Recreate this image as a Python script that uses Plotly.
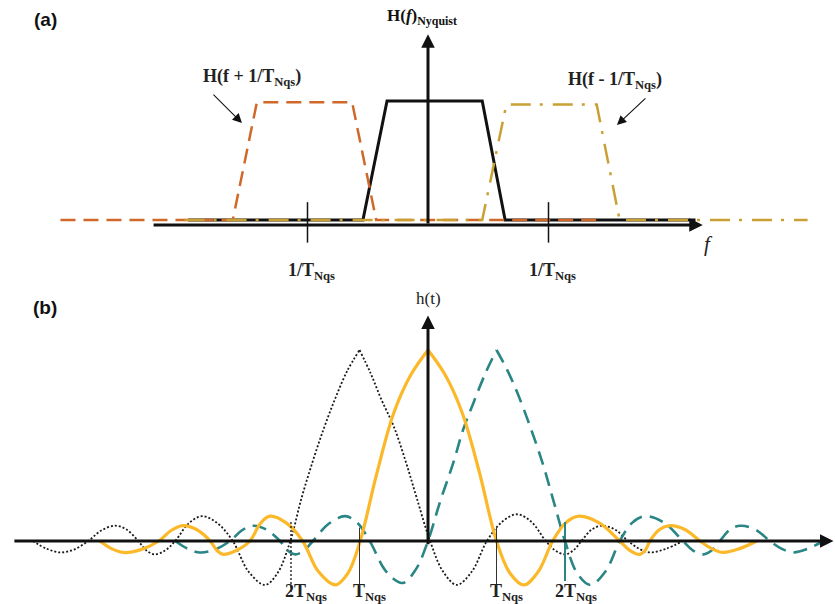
import plotly.graph_objects as go

# ---------------- Panel (a): spectra, f in units of 1/T_Nqs ----------------
f_center = [-1.99, -0.54, -0.34, 0.45, 0.64, 2.22]
H_center = [0, 0, 1.0, 1.0, 0, 0]
f_plus = [-3.05, -1.62, -1.42, -0.63, -0.43, 1.43]      # H(f + 1/T)
H_plus = [0, 0, 0.99, 0.99, 0, 0]
f_minus = [-2.02, 0.45, 0.65, 1.40, 1.59, 3.15]         # H(f - 1/T)
H_minus = [0, 0, 0.97, 0.97, 0, 0]
freq_ticks = [-1, 1]
freq_tick_labels = ["<b>1/T<sub>Nqs</sub></b>", "<b>1/T<sub>Nqs</sub></b>"]

# ---------------- Panel (b): pulses, t in units of T_Nqs ----------------
t_main = [-4.79, -4.62, -4.45, -4.19, -3.93, -3.75, -3.58, -3.38, -3.18, -3.08,
          -2.99, -2.80, -2.60, -2.45, -2.31, -2.07, -1.83, -1.60, -1.35, -1.17,
          -0.99, -0.75, -0.50, -0.25, 0.0,
          0.25, 0.50, 0.75, 1.0, 1.20, 1.40, 1.61, 1.82, 2.01, 2.20,
          2.50, 2.80, 2.95, 3.09, 3.17, 3.24, 3.38, 3.53, 3.75, 3.97,
          4.14, 4.31, 4.55, 4.80]
h_main = [0, -0.04, -0.06, -0.045, 0, 0.055, 0.08, 0.06, 0, -0.05,
          -0.07, -0.05, 0, 0.09, 0.13, 0.095, 0, -0.16, -0.23, -0.17,
          0, 0.35, 0.67, 0.87, 1.0,
          0.87, 0.67, 0.36, 0, -0.17, -0.23, -0.16, 0, 0.095, 0.13,
          0.095, 0, -0.05, -0.07, -0.05, 0, 0.06, 0.08, 0.06, 0,
          -0.04, -0.06, -0.04, 0]

t_early = [-5.77, -5.57, -5.37, -5.17, -4.96, -4.77, -4.57, -4.40, -4.23, -4.11,
           -3.99, -3.84, -3.69, -3.50, -3.30, -3.08, -2.85, -2.62, -2.38, -2.20,
           -2.01, -1.85, -1.68, -1.52, -1.35, -1.18, -1.0,
           -0.84, -0.68, -0.50, -0.32, -0.16, 0.03, 0.22, 0.42, 0.64, 0.86,
           1.08, 1.30, 1.51, 1.72, 1.86, 2.00, 2.12, 2.24, 2.39, 2.54,
           2.73, 2.92, 3.08, 3.24, 3.48, 3.72]
h_early = [0, -0.04, -0.06, -0.045, 0, 0.055, 0.08, 0.06, 0, -0.05,
           -0.07, -0.05, 0, 0.09, 0.13, 0.095, 0, -0.16, -0.23, -0.17,
           0, 0.22, 0.42, 0.59, 0.75, 0.89, 1.0,
           0.88, 0.74, 0.60, 0.41, 0.22, 0, -0.16, -0.23, -0.16, 0,
           0.10, 0.14, 0.10, 0, -0.05, -0.07, -0.05, 0, 0.06, 0.08,
           0.06, 0, -0.04, -0.06, -0.04, 0]

t_late = [-3.69, -3.51, -3.33, -3.11, -2.89, -2.72, -2.56, -2.36, -2.16, -2.05,
          -1.94, -1.81, -1.68, -1.45, -1.21, -1.03, -0.85, -0.61, -0.37, -0.18,
          0.0, 0.18, 0.37, 0.51, 0.66, 0.84, 1.0,
          1.15, 1.30, 1.49, 1.68, 1.84, 2.0, 2.18, 2.37, 2.59, 2.80,
          2.98, 3.17, 3.45, 3.72, 3.87, 4.02, 4.14, 4.26, 4.41, 4.56,
          4.78, 4.99, 5.16, 5.33, 5.55, 5.77]
h_late = [0, -0.04, -0.06, -0.045, 0, 0.055, 0.08, 0.06, 0, -0.05,
          -0.07, -0.05, 0, 0.09, 0.13, 0.095, 0, -0.16, -0.22, -0.15,
          0, 0.21, 0.41, 0.58, 0.72, 0.88, 1.0,
          0.90, 0.78, 0.60, 0.40, 0.20, 0, -0.17, -0.23, -0.16, 0,
          0.095, 0.13, 0.095, 0, -0.05, -0.07, -0.05, 0, 0.06, 0.08,
          0.06, 0, -0.04, -0.06, -0.04, 0]

time_ticks = [-2, -1, 1, 2]
time_tick_labels = ["<b>2T<sub>Nqs</sub></b>", "<b>T<sub>Nqs</sub></b>",
                    "<b>T<sub>Nqs</sub></b>", "<b>2T<sub>Nqs</sub></b>"]

# ---------------- colours ----------------
BLACK = "#111111"
ORANGE = "#D0682A"
GOLD = "#C9A033"
YELLOW = "#FBB829"
TEAL = "#2A8585"

W, Hpx = 835, 604
split_px = 290
dom_a = [(Hpx - split_px) / Hpx, 1.0]
dom_b = [0.0, (Hpx - split_px) / Hpx]

fig = go.Figure()

# panel (a) traces: black first, then orange and gold on top
fig.add_trace(go.Scatter(x=f_center, y=H_center, mode="lines",
                         line=dict(color=BLACK, width=3), xaxis="x", yaxis="y"))
fig.add_trace(go.Scatter(x=f_plus, y=H_plus, mode="lines",
                         line=dict(color=ORANGE, width=2.5, dash="15px,8px"),
                         xaxis="x", yaxis="y"))
fig.add_trace(go.Scatter(x=f_minus, y=H_minus, mode="lines",
                         line=dict(color=GOLD, width=2.5, dash="20px,9px,3px,10px"),
                         xaxis="x", yaxis="y"))

# tick marks in (a)
for ft in freq_ticks:
    fig.add_trace(go.Scatter(x=[ft, ft], y=[0.15, -0.19], mode="lines",
                             line=dict(color=BLACK, width=1.5), xaxis="x", yaxis="y"))


def add_pulse(t, h, style):
    k = h.index(max(h))
    for xs, ys in ((t[:k + 1], h[:k + 1]), (t[k:], h[k:])):
        fig.add_trace(go.Scatter(x=xs, y=ys, mode="lines",
                                 line=dict(shape="spline", smoothing=1.0, **style),
                                 xaxis="x2", yaxis="y2"))


add_pulse(t_early, h_early, dict(color="#1a1a1a", width=1.8, dash="2px,2px"))
add_pulse(t_late, h_late, dict(color=TEAL, width=2.6, dash="14px,8px"))
add_pulse(t_main, h_main, dict(color=YELLOW, width=3.2))

# vertical markers in (b)
marker_styles = {
    -2: dict(color="#222222", width=1.4, dash="2px,2px"),
    -1: dict(color="#333333", width=1.0),
    1: dict(color="#333333", width=1.0),
    2: dict(color=TEAL, width=2.0),
}
marker_spans = {-2: (0.10, -0.28), -1: (0.07, -0.25), 1: (0.07, -0.25), 2: (0.10, -0.21)}
for tt in time_ticks:
    y0, y1 = marker_spans[tt]
    fig.add_trace(go.Scatter(x=[tt, tt], y=[y0, y1], mode="lines",
                             line=marker_styles[tt], xaxis="x2", yaxis="y2"))

ann = []
serif = "Liberation Serif"

# axes arrows (a)
ann.append(dict(x=2.28, y=-0.042, ax=-2.29, ay=-0.042, xref="x", yref="y",
                axref="x", ayref="y", text="", showarrow=True, arrowhead=2,
                arrowsize=0.9, arrowwidth=3, arrowcolor=BLACK, standoff=0))
ann.append(dict(x=0, y=1.56, ax=0, ay=-0.042, xref="x", yref="y",
                axref="x", ayref="y", text="", showarrow=True, arrowhead=2,
                arrowsize=0.9, arrowwidth=3, arrowcolor=BLACK, standoff=0))
# pointer arrows (a)
ann.append(dict(x=-1.544, y=0.815, ax=-1.793, ay=1.067, xref="x", yref="y",
                axref="x", ayref="y", text="", showarrow=True, arrowhead=2,
                arrowsize=1.7, arrowwidth=1.1, arrowcolor=BLACK, standoff=0))
ann.append(dict(x=1.568, y=0.798, ax=1.817, ay=1.034, xref="x", yref="y",
                axref="x", ayref="y", text="", showarrow=True, arrowhead=2,
                arrowsize=1.7, arrowwidth=1.1, arrowcolor=BLACK, standoff=0))

# texts (a)
ann.append(dict(x=-0.05, y=1.71, xref="x", yref="y", showarrow=False,
                text="<b>H(<i>f</i>)<sub>Nyquist</sub></b>",
                font=dict(family=serif, size=17, color=BLACK)))
ann.append(dict(x=-1.46, y=1.20, xref="x", yref="y", showarrow=False,
                text="<b>H(f + 1/T<sub>Nqs</sub>)</b>",
                font=dict(family=serif, size=18, color="#222222")))
ann.append(dict(x=1.55, y=1.175, xref="x", yref="y", showarrow=False,
                text="<b>H(f - 1/T<sub>Nqs</sub>)</b>",
                font=dict(family=serif, size=18, color="#222222")))
for ft, lab in zip(freq_ticks, freq_tick_labels):
    ann.append(dict(x=ft + 0.03, y=-0.43, xref="x", yref="y", showarrow=False,
                    text=lab, font=dict(family=serif, size=18, color="#222222")))
ann.append(dict(x=2.33, y=-0.20, xref="x", yref="y", showarrow=False,
                text="<i>f</i>", font=dict(family=serif, size=21, color="#222222")))

# axes arrows (b)
ann.append(dict(x=5.92, y=0, ax=-6.06, ay=0, xref="x2", yref="y2",
                axref="x2", ayref="y2", text="", showarrow=True, arrowhead=2,
                arrowsize=0.9, arrowwidth=3, arrowcolor=BLACK, standoff=0))
ann.append(dict(x=0, y=1.18, ax=0, ay=-0.025, xref="x2", yref="y2",
                axref="x2", ayref="y2", text="", showarrow=True, arrowhead=2,
                arrowsize=0.9, arrowwidth=3, arrowcolor=BLACK, standoff=0))
ann.append(dict(x=0, y=1.272, xref="x2", yref="y2", showarrow=False,
                text="h(t)", font=dict(family=serif, size=17, color="#222222")))
for tt, lab in zip(time_ticks, time_tick_labels):
    off = -0.17 if tt == 2 else -0.12
    ann.append(dict(x=tt + off, y=-0.267, xref="x2", yref="y2", showarrow=False,
                    xanchor="left", text=lab,
                    font=dict(family=serif, size=18, color="#222222")))

# panel letters
ann.append(dict(x=45 / W, y=1 - 20 / Hpx, xref="paper", yref="paper", showarrow=False,
                xanchor="center", yanchor="middle",
                text="<b>(a)</b>", font=dict(family="Liberation Sans", size=19, color=BLACK)))
ann.append(dict(x=45 / W, y=1 - 307 / Hpx, xref="paper", yref="paper", showarrow=False,
                xanchor="center", yanchor="middle",
                text="<b>(b)</b>", font=dict(family="Liberation Sans", size=19, color=BLACK)))

ax_common = dict(visible=False, showgrid=False, zeroline=False, fixedrange=True)
fig.update_layout(
    width=W, height=Hpx,
    margin=dict(l=0, r=0, t=0, b=0),
    paper_bgcolor="white", plot_bgcolor="white",
    showlegend=False,
    xaxis=dict(domain=[0, 1], range=[-428 / 120.5, 407 / 120.5], anchor="y", **ax_common),
    yaxis=dict(domain=dom_a, range=[(220 - split_px) / 119, 220 / 119], anchor="x", **ax_common),
    xaxis2=dict(domain=[0, 1], range=[-428 / 68.5, 407 / 68.5], anchor="y2", **ax_common),
    yaxis2=dict(domain=dom_b, range=[(541 - Hpx) / 191, (541 - split_px) / 191], anchor="x2", **ax_common),
    annotations=ann,
)

fig.write_html("out.html")
